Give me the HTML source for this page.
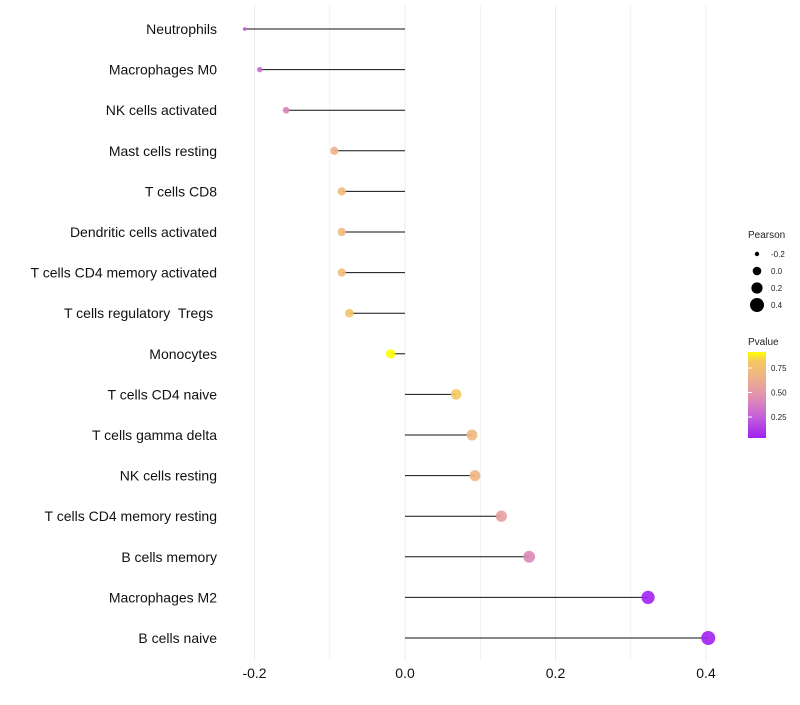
<!DOCTYPE html>
<html><head><meta charset="utf-8"><style>
body{margin:0;background:#fff;font-family:"Liberation Sans",sans-serif}
</style></head><body>
<svg id="c" width="800" height="700" font-family="Liberation Sans, sans-serif"></svg>
<script>
const cats=["Neutrophils","Macrophages M0","NK cells activated","Mast cells resting","T cells CD8","Dendritic cells activated","T cells CD4 memory activated","T cells regulatory  Tregs ","Monocytes","T cells CD4 naive","T cells gamma delta","NK cells resting","T cells CD4 memory resting","B cells memory","Macrophages M2","B cells naive"];
const pearson=[-0.213,-0.193,-0.158,-0.094,-0.084,-0.084,-0.084,-0.074,-0.019,0.068,0.089,0.093,0.128,0.165,0.323,0.403];
const pvalue=[0.2,0.3,0.4,0.66,0.72,0.72,0.72,0.78,0.91,0.82,0.7,0.68,0.55,0.42,0.05,0.04];
const xTicks=[-0.2,0,0.2,0.4];
const xTickLabels=["-0.2","0.0","0.2","0.4"];
const sizeLegend=[-0.2,0,0.2,0.4];
const pTicks=[0.25,0.5,0.75];
const NS="http://www.w3.org/2000/svg",svg=document.getElementById("c");
function el(t,a,p){const e=document.createElementNS(NS,t);for(const k in a)e.setAttribute(k,a[k]);(p||svg).appendChild(e);return e;}
const x=v=>405+v*752.5;
const y=i=>29+i*40.6;
const r=v=>1.8+5.2*Math.sqrt(Math.max(0,(v+0.213)/0.616));
const stops=[[0.036,[160,32,240]],[0.25,[195,95,220]],[0.42,[220,136,184]],[0.55,[232,160,160]],[0.7,[240,184,128]],[0.82,[245,200,96]],[0.913,[255,255,0]]];
function col(p){p=Math.max(stops[0][0],Math.min(stops[stops.length-1][0],p));for(let i=0;i<stops.length-1;i++){const a=stops[i],b=stops[i+1];if(p<=b[0]){const t=(p-a[0])/(b[0]-a[0]);return "rgb("+a[1].map((c,j)=>Math.round(c+(b[1][j]-c)*t)).join(",")+")";}}}
const py=p=>438-(p-0.036)/(0.913-0.036)*86;
for(let k=-2;k<=4;k++){const v=k/10;const g=el("line",{x1:x(v),x2:x(v),y1:5,y2:660,stroke:"#ebebeb","stroke-width":k%2==0?1:0.6});

}
xTicks.forEach((v,i)=>{const t=el("text",{x:x(v),y:678,"text-anchor":"middle","font-size":14,fill:"#111"});t.textContent=xTickLabels[i];

});
cats.forEach((c,i)=>{const t=el("text",{x:217,y:y(i)+5,"text-anchor":"end","font-size":14,fill:"#111","xml:space":"preserve",style:"white-space:pre"});t.textContent=c;


const l=el("line",{x1:x(0),x2:x(pearson[i]),y1:y(i),y2:y(i),stroke:"#111","stroke-width":1});


const d=el("circle",{cx:x(pearson[i]),cy:y(i),r:r(pearson[i]),fill:col(pvalue[i]),"fill-opacity":0.9});

});
let t=el("text",{x:748,y:238,"font-size":10,fill:"#222"});t.textContent="Pearson";


sizeLegend.forEach((v,i)=>{const cy=254+i*17;const c=el("circle",{cx:757,cy:cy,r:[2.2,4.3,5.6,7][i],fill:"#000"});


const s=el("text",{x:771,y:cy+3,"font-size":8,fill:"#222"});s.textContent=v===0?"0.0":String(v);

});
t=el("text",{x:748,y:345,"font-size":10,fill:"#222"});t.textContent="Pvalue";


const defs=el("defs",{});const lg=el("linearGradient",{id:"pg",x1:0,y1:1,x2:0,y2:0},defs);
stops.forEach(s=>el("stop",{offset:(s[0]-0.036)/(0.877),"stop-color":"rgb("+s[1].join(",")+")"},lg));
const bar=el("rect",{x:748,y:352,width:18,height:86,fill:"url(#pg)"});


pTicks.forEach(p=>{const s=el("text",{x:771,y:py(p)+3,"font-size":8,fill:"#222"});s.textContent=p.toFixed(2);


const k=el("line",{x1:748,x2:752,y1:py(p),y2:py(p),stroke:"#fff"});

});
</script>
</body></html>
